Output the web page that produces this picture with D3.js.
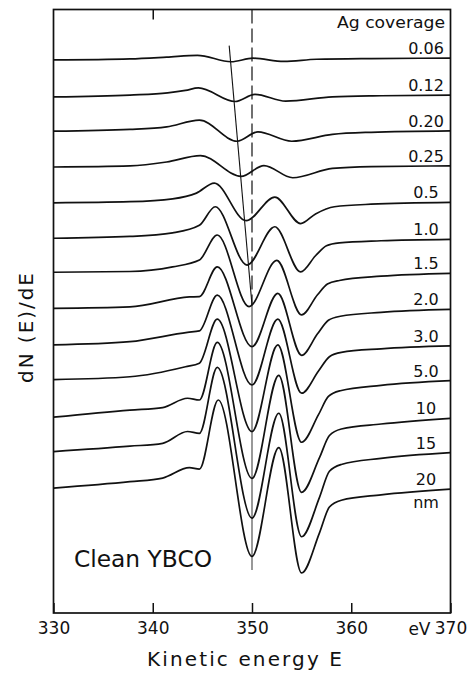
<!DOCTYPE html>
<html>
<head>
<meta charset="utf-8">
<script src="https://d3js.org/d3.v7.min.js"></script>
<style>
  body { margin: 0; background: #fff; }
  text { font-family: "DejaVu Sans", sans-serif; fill: #111; }
</style>
</head>
<body>
<svg width="468" height="673"></svg>
<script>
// Ag coverage (nm), top trace to bottom trace
var coverages = ['0.06', '0.12', '0.20', '0.25', '0.5', '1.0', '1.5', '2.0', '3.0', '5.0', '10', '15', '20'];
// vertical offset of every trace, arb. units
var offsets = [155, 144.7, 134.7, 124.9, 114.7, 104.4, 94.9, 84.8, 74.6, 64.9, 54.4, 44.8, 34.6];

// dN(E)/dE: [kinetic energy eV, value around own offset]
var t006 = [[330,-0.5],[337.7,-0.2],[341.4,0.3],[344.5,0.8],[347.9,-1.0],[350.1,0.0],[353.2,-0.9],[356.5,-0.3],[362,-0.1],[370,0]];
var t012 = [[330,-0.5],[337.7,0.0],[341.5,0.6],[343.3,1.3],[344.6,2.0],[348.3,-1.8],[350.3,0.2],[353.4,-1.7],[358.1,-0.5],[363,-0.2],[370,0]];
var t020 = [[330,-0.1],[337.7,0.4],[341.4,1.1],[344.7,3.0],[348.5,-2.9],[350.6,-0.3],[354.0,-2.9],[358.1,-1.0],[362,-0.4],[370,0]];
var t025 = [[330,-0.3],[337.7,0.0],[341.4,1.1],[344.8,2.9],[348.9,-2.9],[351.2,0.1],[354.1,-3.3],[358.1,-0.7],[362,-0.2],[370,0]];
var t05  = [[330,-0.1],[337.7,0.2],[342,1.0],[344.4,2.6],[346.2,5.4],[349.4,-5.1],[352.3,1.5],[354.9,-5.9],[356.4,-3.2],[358.3,-1.2],[362,-0.5],[370,0]];
var t10  = [[330,0.3],[337.7,0.8],[342,1.8],[344.7,3.9],[346.3,9.1],[349.5,-7.2],[352.3,3.5],[354.9,-9.1],[356.4,-4.6],[357.5,-1.8],[358.8,-1.0],[363,-0.4],[370,0]];
var t15  = [[330,0.3],[337.7,0.5],[342,1.8],[344.7,3.7],[346.5,10.7],[349.7,-9.3],[352.5,3.6],[355.0,-11.6],[356.6,-6.0],[357.6,-3.0],[358.8,-2.0],[363,-0.8],[370,0]];
var t20  = [[330,0.3],[337.7,0.7],[343.7,3.5],[344.7,3.6],[346.5,11.9],[350.0,-10.4],[352.6,4.5],[355.0,-12.8],[356.6,-6.8],[357.7,-3.0],[358.9,-1.9],[363,-0.8],[370,0]];
var t30  = [[330,0.3],[337.7,1.2],[343.5,3.8],[344.7,4.2],[346.5,14.2],[350.0,-10.9],[352.6,7.5],[355.0,-13.2],[356.7,-7.0],[357.8,-3.0],[359,-1.8],[363,-0.8],[370,0]];
var t50  = [[330,0.3],[337.7,1.1],[343.3,3.9],[344.7,4.9],[346.5,17.2],[350.0,-14.2],[352.6,10],[355.0,-17.2],[356.7,-9.5],[357.7,-4.4],[358.9,-2.8],[363,-1.3],[370,0]];
var t100 = [[330,0.3],[337.7,2.3],[341,3.0],[343.5,5.6],[344.7,5.1],[346.5,21.2],[350.0,-16.8],[352.7,12],[355.0,-20.7],[356.8,-11],[357.8,-4.8],[359,-3.0],[363,-1.6],[370,0]];
var t150 = [[330,0.3],[337.7,1.8],[341,2.6],[343.5,5.9],[344.7,5.4],[346.5,23.8],[350.0,-18.3],[352.7,11.0],[355.0,-23.5],[356.8,-12.5],[357.8,-5.2],[359,-3.3],[363,-1.6],[370,0]];
var t200 = [[330,0.3],[337.7,2.1],[341,3.1],[343.7,6.0],[344.7,5.6],[346.6,24.9],[350.0,-18.8],[352.7,11.6],[355.0,-23.4],[356.8,-12.2],[357.8,-5.0],[359,-3.1],[363,-1.6],[370,0]];
var traces = [t006, t012, t020, t025, t05, t10, t15, t20, t30, t50, t100, t150, t200];

// x axis ticks
var xTicks = [330, 340, 350, 360, 370];

// guide lines (eV, arb. units)
var shiftLine = [[347.7, 158.5], [350.0, 86]];
var refDashed = [[350, 168.6], [350, 86]];
var refSolid = [[350, 86], [350, 12]];

var svg = d3.select('svg');

var x = d3.scaleLinear().domain([330, 370]).range([53.5, 450.5]);
var y = d3.scaleLinear().domain([0, 168.6]).range([613, 9.5]);

// frame
svg.append('rect')
	.attr('x', x(330)).attr('y', y(168.6))
	.attr('width', x(370) - x(330)).attr('height', y(0) - y(168.6))
	.attr('fill', 'none').attr('stroke', '#111').attr('stroke-width', 1.7);

// bottom axis, ticks pointing inwards
var xAxis = svg.append('g')
	.attr('transform', 'translate(0,' + y(0) + ')')
	.call(d3.axisBottom(x).tickValues(xTicks).tickSizeInner(-10).tickSizeOuter(0).tickPadding(9)
		.tickFormat(function(d) { return d; }));
xAxis.select('.domain').remove();
xAxis.selectAll('line').attr('stroke', '#111').attr('stroke-width', 1.5);
xAxis.selectAll('text').style('font-size', '17px').attr('fill', '#111')
	.style('font-family', '"DejaVu Sans", sans-serif');

svg.append('text')
	.attr('x', x(370) - 20).attr('y', y(0) + 22)
	.attr('text-anchor', 'end')
	.style('font-size', '17px')
	.text('eV');

// top axis: one tick at 340
var topAxis = svg.append('g')
	.attr('transform', 'translate(0,' + y(168.6) + ')')
	.call(d3.axisTop(x).tickValues([340]).tickSizeInner(-10).tickSizeOuter(0).tickFormat(''));
topAxis.select('.domain').remove();
topAxis.selectAll('line').attr('stroke', '#111').attr('stroke-width', 1.5);

var guide = d3.line().x(function(d) { return x(d[0]); }).y(function(d) { return y(d[1]); });

svg.append('path').attr('d', guide(refDashed))
	.attr('fill', 'none').attr('stroke', '#111').attr('stroke-width', 1.2)
	.attr('stroke-dasharray', '14,5');
svg.append('path').attr('d', guide(refSolid))
	.attr('fill', 'none').attr('stroke', '#444').attr('stroke-width', 1.1);
svg.append('path').attr('d', guide(shiftLine))
	.attr('fill', 'none').attr('stroke', '#111').attr('stroke-width', 1.1);

// traces
var line = d3.line().curve(d3.curveMonotoneX);

svg.selectAll('.trace')
	.data(traces)
	.enter().append('path')
	.classed('trace', true)
	.attr('d', function(d, i) {
		return line(d.map(function(p) { return [x(p[0]), y(offsets[i] + p[1])]; }));
	})
	.attr('fill', 'none')
	.attr('stroke', '#111')
	.attr('stroke-width', 1.7)
	.attr('stroke-linejoin', 'round');

// coverage labels
svg.selectAll('.cov')
	.data(coverages)
	.enter().append('text')
	.classed('cov', true)
	.attr('x', 426)
	.attr('y', function(d, i) { return y(offsets[i]) - 4; })
	.attr('text-anchor', 'middle')
	.style('font-size', '16px')
	.text(function(d) { return d; });

svg.append('text')
	.attr('x', 426).attr('y', y(offsets[offsets.length - 1]) + 19)
	.attr('text-anchor', 'middle')
	.style('font-size', '16px')
	.text('nm');

svg.append('text')
	.attr('x', 337).attr('y', 28)
	.attr('textLength', 108).attr('lengthAdjust', 'spacingAndGlyphs')
	.style('font-size', '15.5px')
	.text('Ag coverage');

svg.append('text')
	.attr('x', 74).attr('y', 567)
	.attr('textLength', 138).attr('lengthAdjust', 'spacingAndGlyphs')
	.style('font-size', '23px')
	.text('Clean YBCO');

// axis titles
svg.append('text')
	.attr('x', 147).attr('y', 666)
	.attr('textLength', 195).attr('lengthAdjust', 'spacing')
	.style('font-size', '20px')
	.text('Kinetic energy E');

svg.append('text')
	.attr('transform', 'translate(33,383) rotate(-90)')
	.attr('textLength', 110).attr('lengthAdjust', 'spacing')
	.style('font-size', '20px')
	.attr('xml:space', 'preserve')
	.text('dN (E)/dE');
</script>
</body>
</html>
